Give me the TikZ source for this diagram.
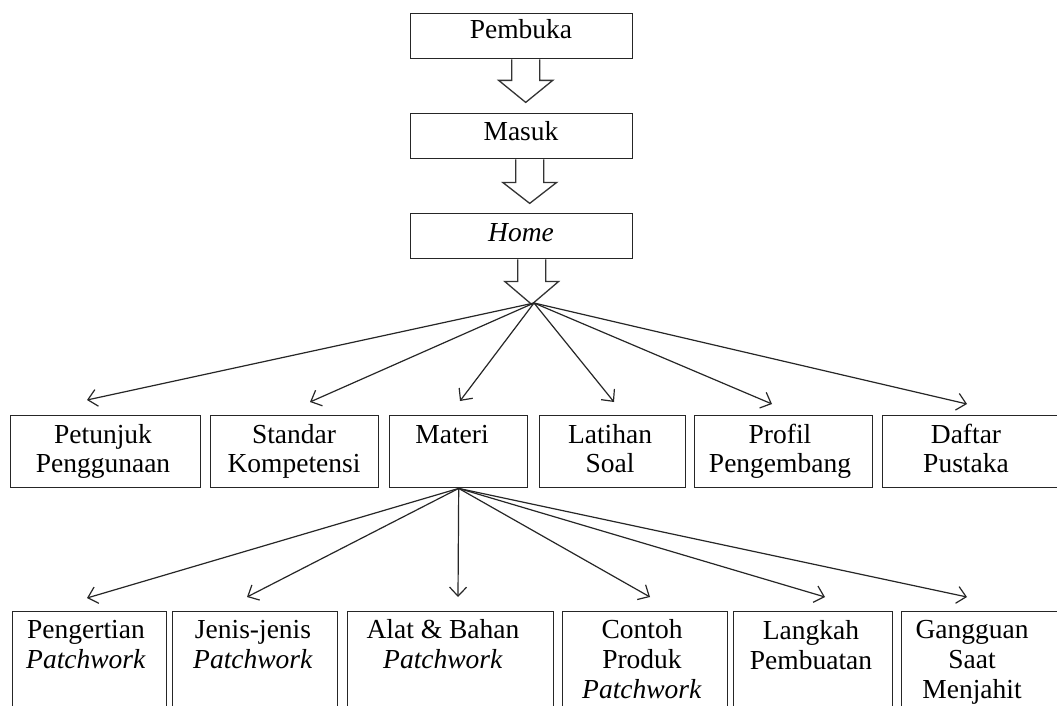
\documentclass[tikz,border=0pt]{standalone}
\usepackage{fontspec}
\setmainfont{Liberation Serif}
\usetikzlibrary{arrows.meta}
\begin{document}
\begin{tikzpicture}[x=1pt,y=-1pt,
  box/.style={draw=black!85,line width=1.4pt,inner sep=0pt,anchor=north west},
  lbl/.style={anchor=north,inner sep=0pt,align=center,font=\fontsize{27.5}{29}\selectfont},
  lblb/.style={anchor=north,inner sep=0pt,align=center,font=\fontsize{27.5}{30}\selectfont},
  fan/.style={draw=black!85,line width=1.2pt,-{Straight Barb[length=9pt,width=17pt,line width=1.2pt]}},
  blk/.style={draw=black!80,line width=1.3pt,fill=white,line join=miter}]
\useasboundingbox (0,0) rectangle (1057,706);
\clip (0,0) rectangle (1057,706);
\fill[white] (0,0) rectangle (1057,706);

% top column
\node[box,minimum width=222pt,minimum height=45pt] (pembuka) at (410,13) {};
\node[box,minimum width=222pt,minimum height=45pt] (masuk) at (410,113) {};
\node[box,minimum width=222pt,minimum height=45pt] (home) at (410,213) {};
\node[lbl] (tpembuka) at (521,18) {\strut Pembuka};
\node[lbl] (tmasuk) at (521,119.5) {\strut Masuk};
\node[lbl] (thome) at (521,220.5) {\strut\textit{Home}};

% block arrows
\draw[blk] (pembuka.south) ++(-10,0) -- ++(0,21) -- ++(-13,0) -- ++(27,22) -- ++(27,-22) -- ++(-13,0) -- ++(0,-21);
\draw[blk] (masuk.south) ++(-6,0) -- ++(0,23) -- ++(-13,0) -- ++(27,21) -- ++(27,-21) -- ++(-13,0) -- ++(0,-23);
\draw[blk] (home.south) ++(-4,0) -- ++(0,22) -- ++(-13,0) -- ++(27,23) -- ++(27,-23) -- ++(-13,0) -- ++(0,-22);
\coordinate (hub) at (534,303);

% second row
\node[box,minimum width=190pt,minimum height=72pt] (petunjuk) at (10,415) {};
\node[box,minimum width=168pt,minimum height=72pt] (standar) at (210,415) {};
\node[box,minimum width=138pt,minimum height=72pt] (materi) at (389,415) {};
\node[box,minimum width=146pt,minimum height=72pt] (latihan) at (539,415) {};
\node[box,minimum width=178pt,minimum height=72pt] (profil) at (694,415) {};
\node[box,minimum width=190pt,minimum height=72pt] (daftar) at (882,415) {};
\node[lbl] (tpetunjuk) at (103,422.7) {\strut Petunjuk\\Penggunaan};
\node[lbl] (tstandar) at (294,422.7) {\strut Standar\\Kompetensi};
\node[lbl] (tmateri) at (452,422.7) {\strut Materi};
\node[lbl] (tlatihan) at (610,422.7) {\strut Latihan\\Soal};
\node[lbl] (tprofil) at (780,422.7) {\strut Profil\\Pengembang};
\node[lbl] (tdaftar) at (966,422.7) {\strut Daftar\\Pustaka};

\coordinate (e1) at (87,400);
\coordinate (e2) at (310,402);
\coordinate (e3) at (460,401);
\coordinate (e4) at (614,402);
\coordinate (e5) at (772,404);
\coordinate (e6) at (967,404);
\foreach \e in {e1,e2,e3,e4,e5,e6} \draw[fan] (hub) -- (\e);

% third row
\node[box,minimum width=154pt,minimum height=140pt] (pengertian) at (12,611) {};
\node[box,minimum width=165pt,minimum height=140pt] (jenis) at (172,611) {};
\node[box,minimum width=206pt,minimum height=140pt] (alat) at (347,611) {};
\node[box,minimum width=165pt,minimum height=140pt] (contoh) at (562,611) {};
\node[box,minimum width=159pt,minimum height=140pt] (langkah) at (733,611) {};
\node[box,minimum width=170pt,minimum height=140pt] (gangguan) at (901,611) {};
\node[lblb] (tpengertian) at (86,617) {\strut Pengertian\\\textit{Patchwork}};
\node[lblb] (tjenis) at (253,617) {\strut Jenis-jenis\\\textit{Patchwork}};
\node[lblb] (talat) at (443,617) {\strut Alat \& Bahan\\\textit{Patchwork}};
\node[lblb] (tcontoh) at (642,617) {\strut Contoh\\Produk\\\textit{Patchwork}};
\node[lblb] (tlangkah) at (811,618) {\strut Langkah\\Pembuatan};
\node[lblb] (tgangguan) at (972,617) {\strut Gangguan\\Saat\\Menjahit};

\coordinate (f1) at (87,598);
\coordinate (f2) at (247,597);
\coordinate (f3) at (458,597);
\coordinate (f4) at (650,597);
\coordinate (f5) at (825,597);
\coordinate (f6) at (967,597);
\foreach \f in {f1,f2,f3,f4,f5,f6} \draw[fan] (materi.south) -- (\f);
\end{tikzpicture}
\end{document}
